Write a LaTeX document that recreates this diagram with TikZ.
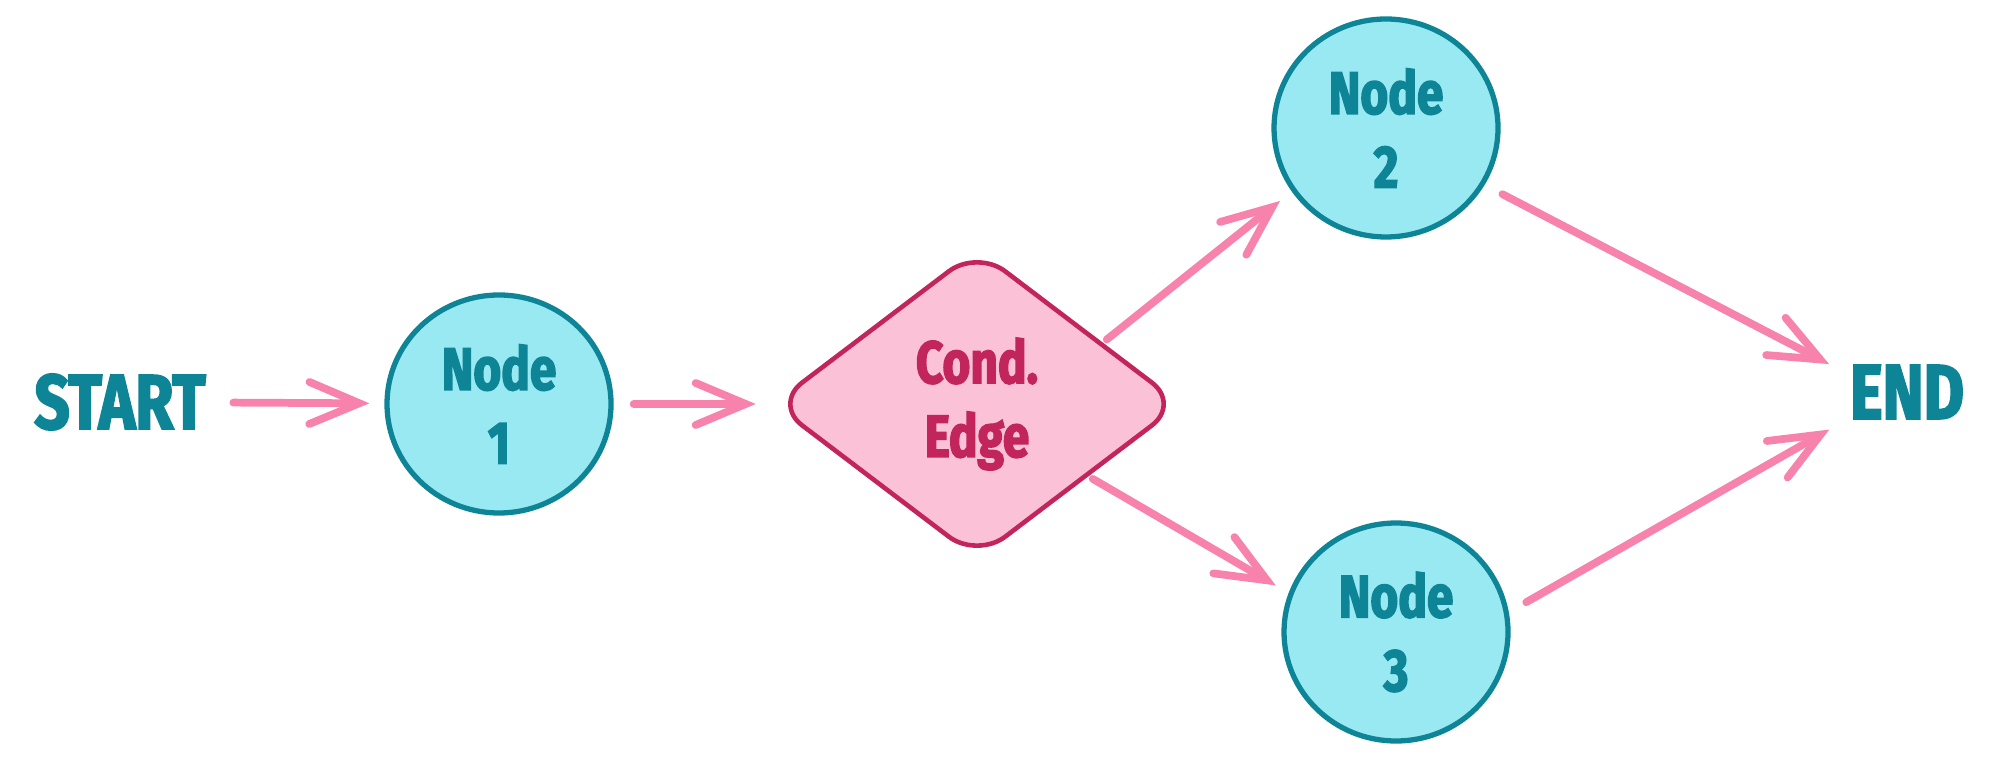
\documentclass[tikz,border=0pt]{standalone}
\usepackage{fontspec}
\setmainfont{Fira Sans}[FakeStretch=0.8, FakeBold=2.5]
\usepackage{tikz}
\usetikzlibrary{shapes.geometric,arrows.meta}
\usepackage{xcolor}
\definecolor{tealink}{HTML}{0E8596}
\definecolor{cyanfill}{HTML}{99E9F2}
\definecolor{pinkfill}{HTML}{FBC1D6}
\definecolor{rosedraw}{HTML}{C2255C}
\definecolor{pinkarrow}{HTML}{F783AC}

\begin{document}
\begin{tikzpicture}[
  stepnode/.style={draw=tealink, fill=cyanfill, ellipse, line width=1.5pt, minimum width=2.24cm, minimum height=2.18cm, inner sep=0pt, align=center, text=tealink, font=\fontsize{17}{21}\selectfont\bfseries},
  cond/.style={draw=rosedraw, fill=pinkfill, diamond, rounded corners=10pt, line width=1.3pt, minimum width=4.08cm, minimum height=3.1cm, inner sep=0pt, align=center, text=rosedraw, font=\fontsize{17}{21}\selectfont\bfseries},
  term/.style={text=tealink, font=\fontsize{22}{26}\selectfont\bfseries, inner sep=2pt},
  arrow/.style={-{Straight Barb[length=5mm, width=4.2mm, line cap=round]}, line width=2.2pt, line cap=round, draw=pinkarrow, shorten >=1.5mm, shorten <=2mm}
]
\useasboundingbox (0,0) rectangle (19.9,-7.6);

% Start and first node
\node[term] (start) at (1.20,-4.02) {START};
\node[stepnode] (n1) at (4.99,-4.04) {Node\\1};

% Conditional edge
\node[cond] (cond) at (9.77,-4.04) {Cond.\\Edge};

% Branches
\node[stepnode] (n2) at (13.86,-1.28) {Node\\2};
\node[stepnode] (n3) at (13.96,-6.32) {Node\\3};

% End
\node[term] (end) at (19.07,-3.92) {END};

\draw[arrow] (start) -- (n1);
\draw[arrow] (n1) -- (cond);
\draw[arrow, shorten <=0.5mm] (cond.26) -- (n2.214);
\draw[arrow, shorten <=0.5mm] (cond.-33) -- (n3.160);
\draw[arrow] (n2.-30) -- (end.162);
\draw[arrow] (n3.10) -- (end.205);

\end{tikzpicture}
\end{document}
